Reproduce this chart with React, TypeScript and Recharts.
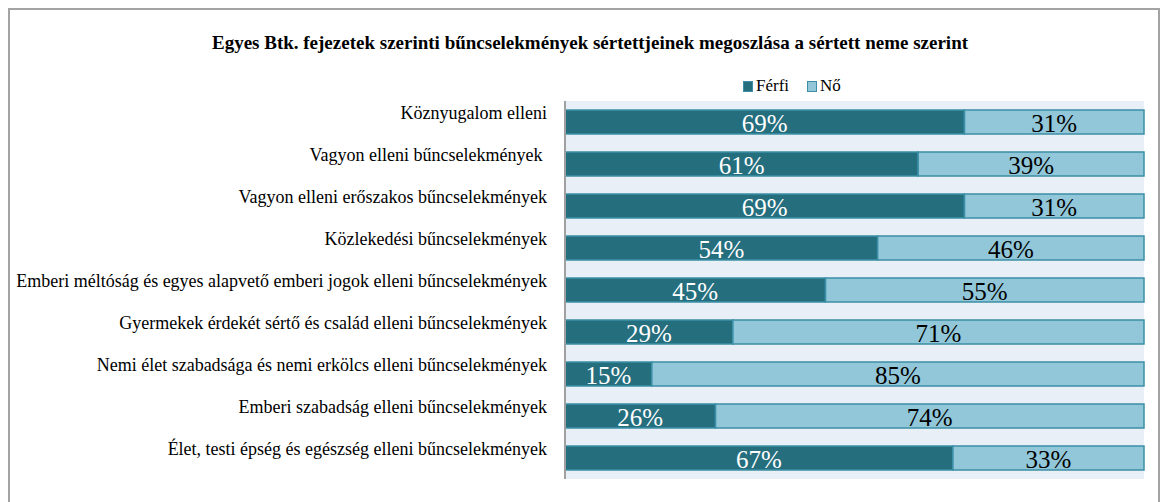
import React from "react";
import { BarChart, Bar, XAxis, YAxis, CartesianGrid, LabelList } from "recharts";

const categories = [
  "Köznyugalom elleni",
  "Vagyon elleni bűncselekmények ",
  "Vagyon elleni erőszakos bűncselekmények",
  "Közlekedési bűncselekmények",
  "Emberi méltóság és egyes alapvető emberi jogok elleni bűncselekmények",
  "Gyermekek érdekét sértő és család elleni bűncselekmények",
  "Nemi élet szabadsága és nemi erkölcs elleni bűncselekmények",
  "Emberi szabadság elleni bűncselekmények",
  "Élet, testi épség és egészség elleni bűncselekmények",
];
const ferfi = [69, 61, 69, 54, 45, 29, 15, 26, 67];
const no = [31, 39, 31, 46, 55, 71, 85, 74, 33];

const DARK = "#256E7E";
const LIGHT = "#91C7D9";
const EDGE = "#3B90A7";
const FONT = "'Liberation Serif', 'Times New Roman', serif";

const data = categories.map((name, i) => ({ name, ferfi: ferfi[i], no: no[i] }));

function CategoryTick({ x, y, payload }: any) {
  return (
    <text
      x={x - 16}
      y={y - 9}
      textAnchor="end"
      dominantBaseline="central"
      fontFamily={FONT}
      fontSize={18}
      fill="#000"
      style={{ whiteSpace: "pre" }}
    >
      {payload.value}
    </text>
  );
}

// centred percentage inside a bar segment
const makeLabel = (color: string) => (props: any) => {
  const { x, y, width, height, value } = props;
  return (
    <text
      x={x + width / 2}
      y={y + height / 2 + 1}
      textAnchor="middle"
      dominantBaseline="central"
      fontFamily={FONT}
      fontSize={25}
      fill={color}
    >
      {value}%
    </text>
  );
};

export default function App() {
  return (
    <div
      style={{
        position: "relative",
        width: 1148,
        height: 496,
        border: "2px solid #A3A3A3",
        fontFamily: FONT,
        background: "#fff",
      }}
    >
      <div
        style={{
          position: "absolute",
          top: 22,
          left: 0,
          width: 1160,
          textAlign: "center",
          fontWeight: "bold",
          fontSize: 19,
          color: "#000",
        }}
      >
        Egyes Btk. fejezetek szerinti bűncselekmények sértettjeinek megoszlása a sértett neme szerint
      </div>
      <div
        style={{
          position: "absolute",
          top: 66,
          left: 733,
          display: "flex",
          alignItems: "center",
          fontSize: 17,
          color: "#000",
        }}
      >
        <span style={{ width: 8, height: 9, background: DARK, border: `1px solid ${EDGE}`, marginRight: 3 }} />
        <span style={{ marginRight: 18 }}>Férfi</span>
        <span style={{ width: 8, height: 9, background: LIGHT, border: `1px solid ${EDGE}`, marginRight: 3 }} />
        <span>Nő</span>
      </div>
      <div style={{ position: "absolute", left: 0, top: 0 }}>
        <BarChart
          width={1148}
          height={490}
          data={data}
          layout="vertical"
          margin={{ top: 91, right: 14, bottom: 21, left: 0 }}
          barSize={24}
        >
          <CartesianGrid fill="#E8EFF6" horizontal={false} vertical={false} stroke="none" />
          <XAxis type="number" domain={[0, 100]} hide />
          <YAxis
            type="category"
            dataKey="name"
            width={555}
            tickLine={false}
            tickSize={0}
            axisLine={{ stroke: "#A0A0A0", strokeWidth: 2 }}
            tick={<CategoryTick />}
            interval={0}
          />
          <Bar dataKey="ferfi" stackId="a" fill={DARK} stroke={EDGE} strokeWidth={1.5} isAnimationActive={false}>
            <LabelList dataKey="ferfi" content={makeLabel("#fff")} />
          </Bar>
          <Bar dataKey="no" stackId="a" fill={LIGHT} stroke={EDGE} strokeWidth={1.5} isAnimationActive={false}>
            <LabelList dataKey="no" content={makeLabel("#000")} />
          </Bar>
        </BarChart>
      </div>
    </div>
  );
}
